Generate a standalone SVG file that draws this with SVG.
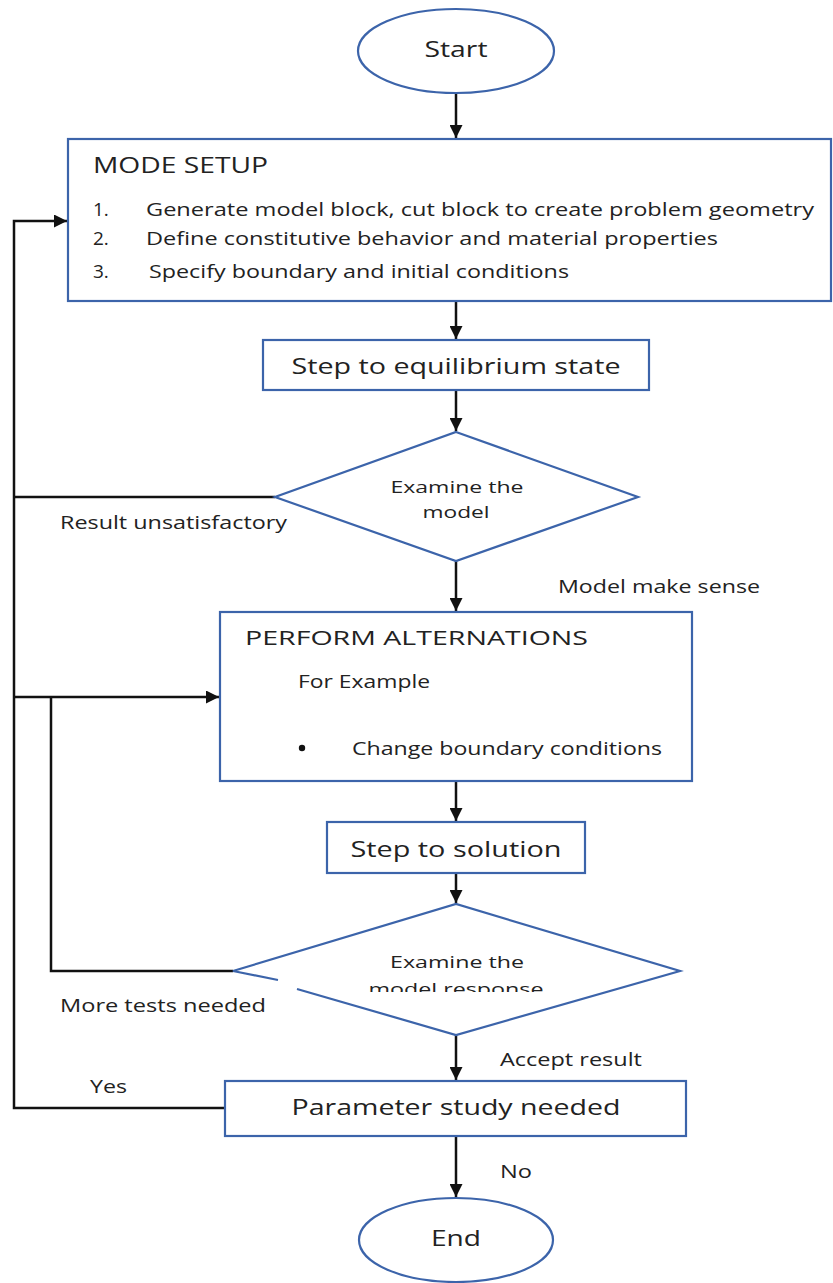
<svg xmlns="http://www.w3.org/2000/svg" width="833" height="1283" viewBox="0 0 833 1283">
<style>
.shape{fill:#ffffff;stroke:#3c64aa;stroke-width:2.2}
.con{fill:none;stroke:#111111;stroke-width:2.5}
text{font-family:"Open Sans","Liberation Sans",sans-serif;fill:#222222}
.c{text-anchor:middle}
</style>
<defs>
<marker id="ah" viewBox="0 0 10 10" refX="10" refY="5" markerWidth="5.2" markerHeight="5.2" markerUnits="strokeWidth" orient="auto">
<path d="M0,0 L10,5 L0,10 Z" fill="#111111"/>
</marker>
<clipPath id="clipD2"><rect x="300" y="940" width="320" height="52"/></clipPath>
</defs>
<rect width="833" height="1283" fill="#ffffff"/>

<g id="connectors">
<path class="con" d="M456,93 L456,138" marker-end="url(#ah)"/>
<path class="con" d="M456,301 L456,339" marker-end="url(#ah)"/>
<path class="con" d="M456,390 L456,431" marker-end="url(#ah)"/>
<path class="con" d="M456,561 L456,611" marker-end="url(#ah)"/>
<path class="con" d="M456,781 L456,821" marker-end="url(#ah)"/>
<path class="con" d="M456,873 L456,903" marker-end="url(#ah)"/>
<path class="con" d="M456,1035 L456,1080" marker-end="url(#ah)"/>
<path class="con" d="M456,1136 L456,1197" marker-end="url(#ah)"/>
<path class="con" d="M225,1108 L14,1108 L14,221 L67,221" marker-end="url(#ah)"/>
<path class="con" d="M275,497 L14,497"/>
<path class="con" d="M14,697 L219,697" marker-end="url(#ah)"/>
<path class="con" d="M233,971 L51,971 L51,697"/>
<text x="60" y="529" font-size="18" textLength="227" lengthAdjust="spacingAndGlyphs">Result unsatisfactory</text>
<text x="558" y="593" font-size="18" textLength="202" lengthAdjust="spacingAndGlyphs">Model make sense</text>
<text x="60" y="1012" font-size="18" textLength="206" lengthAdjust="spacingAndGlyphs">More tests needed</text>
<text x="500" y="1066" font-size="18" textLength="142" lengthAdjust="spacingAndGlyphs">Accept result</text>
<text x="90" y="1093" font-size="18" textLength="37" lengthAdjust="spacingAndGlyphs">Yes</text>
<text x="500" y="1178" font-size="18" textLength="32" lengthAdjust="spacingAndGlyphs">No</text>
</g>

<g id="start">
<ellipse class="shape" cx="456" cy="51" rx="98" ry="42"/>
<text class="c" x="456" y="57" font-size="22" textLength="63" lengthAdjust="spacingAndGlyphs">Start</text>
</g>

<g id="mode-setup">
<rect class="shape" x="68" y="139" width="763" height="162"/>
<text x="93" y="173" font-size="22" textLength="175" lengthAdjust="spacingAndGlyphs">MODE SETUP</text>
<text x="93" y="216" font-size="19">1.</text>
<text x="146" y="216" font-size="19" textLength="668" lengthAdjust="spacingAndGlyphs">Generate model block, cut block to create problem geometry</text>
<text x="93" y="245" font-size="19">2.</text>
<text x="146" y="245" font-size="19" textLength="572" lengthAdjust="spacingAndGlyphs">Define constitutive behavior and material properties</text>
<text x="93" y="278" font-size="19">3.</text>
<text x="149" y="278" font-size="19" textLength="420" lengthAdjust="spacingAndGlyphs">Specify boundary and initial conditions</text>
</g>

<g id="step-equilibrium">
<rect class="shape" x="263" y="340" width="386" height="50"/>
<text class="c" x="456" y="374" font-size="22" textLength="329" lengthAdjust="spacingAndGlyphs">Step to equilibrium state</text>
</g>

<g id="examine-model">
<polygon class="shape" points="456,432 638,497 456,561 275,497"/>
<text class="c" x="457" y="493" font-size="17" textLength="133" lengthAdjust="spacingAndGlyphs">Examine the</text>
<text class="c" x="456" y="518" font-size="17" textLength="67" lengthAdjust="spacingAndGlyphs">model</text>
</g>

<g id="perform-alternations">
<rect class="shape" x="220" y="612" width="472" height="169"/>
<text x="245" y="645" font-size="20" textLength="343" lengthAdjust="spacingAndGlyphs">PERFORM ALTERNATIONS</text>
<text x="298" y="688" font-size="19" textLength="132" lengthAdjust="spacingAndGlyphs">For Example</text>
<circle cx="302" cy="748" r="3.2" fill="#111111"/>
<text x="352" y="755" font-size="19" textLength="310" lengthAdjust="spacingAndGlyphs">Change boundary conditions</text>
</g>

<g id="step-solution">
<rect class="shape" x="327" y="822" width="258" height="51"/>
<text class="c" x="456" y="857" font-size="22" textLength="211" lengthAdjust="spacingAndGlyphs">Step to solution</text>
</g>

<g id="examine-response">
<path class="shape" d="M278,980 L233,971 L456,904 L680,971 L456,1035 L297,989"/>
<text class="c" x="457" y="968" font-size="17" textLength="134" lengthAdjust="spacingAndGlyphs">Examine the</text>
<text class="c" x="456" y="995" font-size="17" textLength="175" lengthAdjust="spacingAndGlyphs" clip-path="url(#clipD2)">model response</text>
</g>

<g id="parameter-study">
<rect class="shape" x="225" y="1081" width="461" height="55"/>
<text class="c" x="456" y="1115" font-size="21" textLength="329" lengthAdjust="spacingAndGlyphs">Parameter study needed</text>
</g>

<g id="end">
<ellipse class="shape" cx="456" cy="1240" rx="97" ry="42"/>
<text class="c" x="456" y="1246" font-size="22" textLength="50" lengthAdjust="spacingAndGlyphs">End</text>
</g>
</svg>
